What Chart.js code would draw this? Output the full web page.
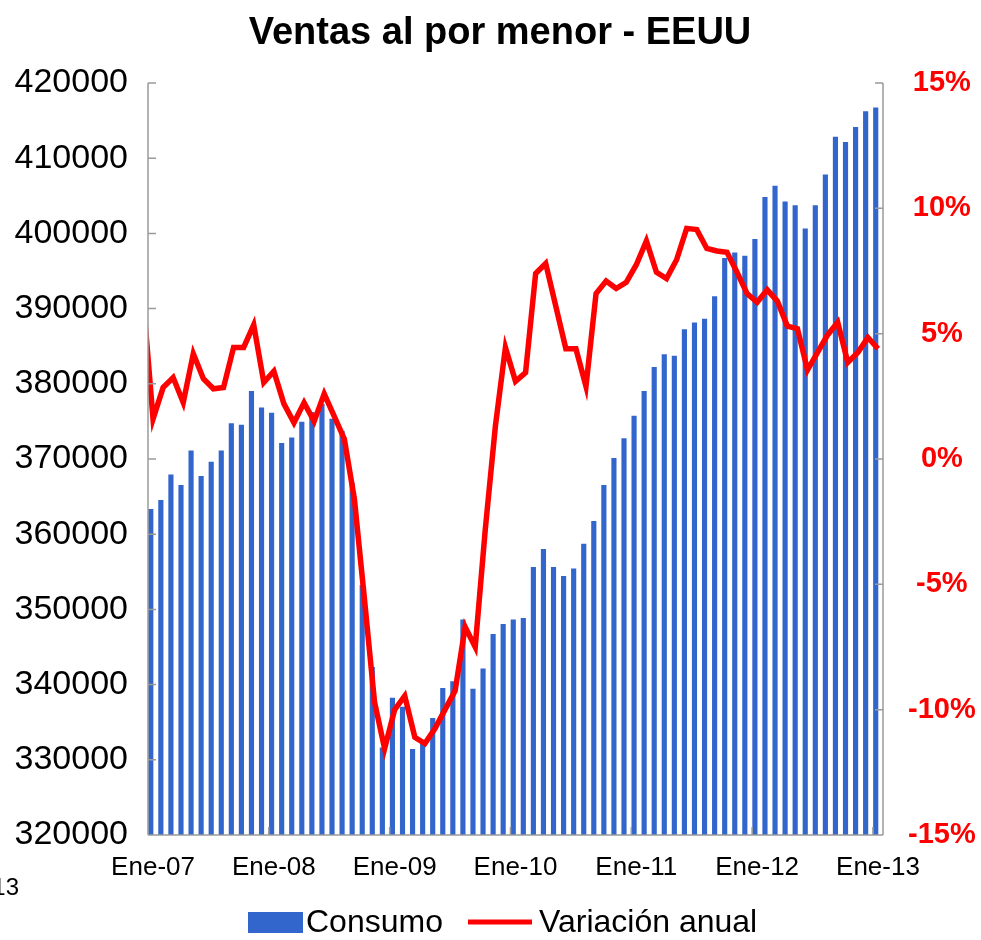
<!DOCTYPE html>
<html>
<head>
<meta charset="utf-8">
<script src="https://cdn.jsdelivr.net/npm/chart.js@4"></script>
<style>
  body { margin: 0; background: #fff; }
  canvas { display: block; }
</style>
</head>
<body>
<canvas id="ventasChart" width="981" height="940"></canvas>
<script>
// meses y años del eje X (Ene-07 ... Ene-13)
const meses = ["Ene", "Feb", "Mar", "Abr", "May", "Jun", "Jul", "Ago", "Sep", "Oct", "Nov", "Dic"];
const anios = ["07", "08", "09", "10", "11", "12", "13"];

// Consumo (barras, eje izquierdo)
const consumo = [
  363300, 364500, 367900, 366500, 371100, 367700, 369600, 371100, 374700, 374500, 379000, 376800,
  376100, 372100, 372800, 374900, 376200, 377300, 375300, 373700, 366800, 353200, 342300, 331600,
  338200, 337000, 331400, 332300, 335500, 339500, 340400, 348600, 339400, 342100, 346700, 348000,
  348600, 348800, 355600, 358000, 355600, 354400, 355400, 358700, 361700, 366500, 370100, 372700,
  375700, 379000, 382200, 383900, 383700, 387200, 388100, 388600, 391600, 396700, 397400, 397000,
  399200, 404800, 406300, 404200, 403700, 400600, 403700, 407800, 412800, 412100, 414100, 416200,
  416700
];

// Variación anual % (línea, eje derecho)
const variacion = [
  1.6, 2.85, 3.25, 2.25, 4.2, 3.2, 2.8, 2.85, 4.45, 4.45, 5.35, 3.05,
  3.5, 2.2, 1.45, 2.25, 1.5, 2.6, 1.7, 0.8, -1.6, -5.6, -9.7, -11.55,
  -10.0, -9.45, -11.1, -11.35, -10.75, -10.0, -9.25, -6.7, -7.5, -2.8, 1.3, 4.45,
  3.1, 3.45, 7.4, 7.8, 6.1, 4.4, 4.4, 2.9, 6.6, 7.1, 6.8, 7.05,
  7.75, 8.7, 7.45, 7.2, 7.95, 9.2, 9.15, 8.4, 8.3, 8.25, 7.45, 6.6,
  6.25, 6.75, 6.3, 5.3, 5.2, 3.55, 4.25, 4.95, 5.45, 3.85, 4.25, 4.85,
  4.4
];
// Dic-06, queda recortado en el borde izquierdo
const variacionPrevia = 6.5;

const yTicksIzq = { min: 320000, max: 420000, step: 10000 };
const yTicksDer = { min: -15, max: 15, step: 5 };

const categorias = [];
anios.forEach(a => meses.forEach(m => categorias.push(m + "-" + a)));
categorias.length = consumo.length;

const puntosLinea = [{ x: -1, y: variacionPrevia }];
variacion.forEach((v, i) => puntosLinea.push({ x: i, y: v }));

const FONT = "'Liberation Sans', Arial, sans-serif";
const AXIS = "#9a9a9a";

const extras = {
  id: "extras",
  afterDraw(chart) {
    const c = chart.ctx;
    const a = chart.chartArea;
    const yL = chart.scales.y, yR = chart.scales.y1, x2 = chart.scales.x2;
    c.save();

    // ejes
    c.strokeStyle = AXIS;
    c.lineWidth = 1.5;
    c.beginPath();
    c.moveTo(a.left, a.top); c.lineTo(a.left, a.bottom);
    c.moveTo(a.right, a.top); c.lineTo(a.right, a.bottom);
    c.moveTo(a.left, a.bottom); c.lineTo(a.right, a.bottom);
    for (let v = yTicksIzq.min; v <= yTicksIzq.max; v += yTicksIzq.step) {
      const y = yL.getPixelForValue(v);
      c.moveTo(a.left, y); c.lineTo(a.left + 8, y);
    }
    for (let v = yTicksDer.min; v <= yTicksDer.max; v += yTicksDer.step) {
      const y = yR.getPixelForValue(v);
      c.moveTo(a.right, y); c.lineTo(a.right - 8, y);
    }
    for (let k = 0; k * 12 < categorias.length; k++) {
      const x = x2.getPixelForValue(k * 12 - 0.5);
      c.moveTo(x, a.bottom); c.lineTo(x, a.bottom - 8);
    }
    c.stroke();

    // título
    c.fillStyle = "#000";
    c.font = "bold 38px " + FONT;
    c.textAlign = "center";
    c.textBaseline = "alphabetic";
    c.fillText("Ventas al por menor - EEUU", 500, 44);

    // texto suelto a la izquierda
    c.font = "24px " + FONT;
    c.textAlign = "right";
    c.textBaseline = "middle";
    c.fillText("13", 19, 888);

    // leyenda
    c.fillStyle = "#3366CC";
    c.fillRect(248, 912, 55, 21);
    c.fillStyle = "#000";
    c.font = "32px " + FONT;
    c.textAlign = "left";
    c.fillText("Consumo", 306, 923);
    c.strokeStyle = "#FF0000";
    c.lineWidth = 5;
    c.beginPath();
    c.moveTo(468, 922); c.lineTo(532, 922);
    c.stroke();
    c.fillText("Variación anual", 539, 923);

    c.restore();
  }
};

new Chart(document.getElementById("ventasChart").getContext("2d"), {
  data: {
    labels: categorias,
    datasets: [
      {
        type: "bar",
        label: "Consumo",
        data: consumo,
        backgroundColor: "#3366CC",
        barThickness: 4.5,
        xAxisID: "x",
        yAxisID: "y",
        order: 2
      },
      {
        type: "line",
        label: "Variación anual",
        data: puntosLinea,
        borderColor: "#FF0000",
        backgroundColor: "#FF0000",
        borderWidth: 5.5,
        pointRadius: 0,
        tension: 0,
        fill: false,
        clip: 0,
        xAxisID: "x2",
        yAxisID: "y1",
        order: 1
      }
    ]
  },
  plugins: [extras],
  options: {
    responsive: false,
    devicePixelRatio: 1,
    animation: false,
    layout: { padding: { top: 83, left: 0, right: 0, bottom: 0 } },
    plugins: {
      legend: { display: false },
      title: { display: false },
      tooltip: { enabled: false }
    },
    scales: {
      x: {
        type: "category",
        offset: true,
        grid: { display: false, drawTicks: false },
        border: { display: false },
        ticks: {
          autoSkip: false,
          maxRotation: 0,
          padding: 17,
          color: "#000",
          font: { family: FONT, size: 26 },
          callback: function (value, index) {
            return index % 12 === 0 ? this.getLabelForValue(value) : "";
          }
        },
        afterFit: s => { s.height = 105; }
      },
      x2: {
        type: "linear",
        display: false,
        min: -0.5,
        max: categorias.length - 0.5
      },
      y: {
        position: "left",
        min: yTicksIzq.min,
        max: yTicksIzq.max,
        grid: { display: false, drawTicks: false },
        border: { display: false },
        ticks: {
          stepSize: yTicksIzq.step,
          padding: 20,
          color: "#000",
          font: { family: FONT, size: 34 },
          callback: v => String(v)
        },
        afterFit: s => { s.width = 148; }
      },
      y1: {
        position: "right",
        min: yTicksDer.min,
        max: yTicksDer.max,
        grid: { display: false, drawTicks: false },
        border: { display: false },
        ticks: {
          stepSize: yTicksDer.step,
          padding: 25,
          crossAlign: "center",
          color: "#FF0000",
          font: { family: FONT, size: 29, weight: "bold" },
          callback: v => v + "%"
        },
        afterFit: s => { s.width = 98; }
      }
    }
  }
});
</script>
</body>
</html>
